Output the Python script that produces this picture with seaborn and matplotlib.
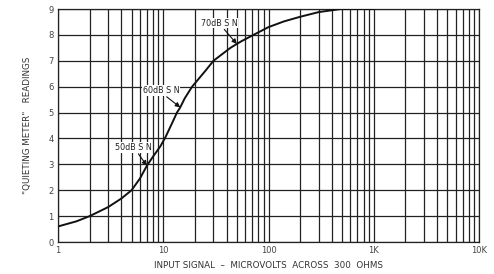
import matplotlib
matplotlib.use("Agg")
import matplotlib.pyplot as plt
import seaborn as sns
import pandas as pd
from matplotlib.ticker import LogLocator, FixedLocator, NullFormatter

signal_uv = [1, 1.5, 2, 3, 4, 5, 6, 7, 8, 9.4, 10.5, 12, 13.5, 14.5, 16, 18.8, 25, 30, 43.5, 50, 55, 72, 100, 140, 200, 300, 485, 1000]
quieting = [0.6, 0.8, 1.0, 1.35, 1.68, 2.0, 2.45, 2.95, 3.3, 3.7, 4.05, 4.55, 5.0, 5.2, 5.55, 6.0, 6.6, 7.0, 7.5, 7.65, 7.75, 8.0, 8.3, 8.52, 8.7, 8.88, 9.0, 9.0]
x_ticks = [1, 10, 100, 1000, 10000]
x_ticklabels = ["1", "10", "100", "1K", "10K"]
y_ticks = list(range(0, 10))
annot_labels = ["50dB S N", "60dB S N", "70dB S N"]
annot_x = [7.0, 14.5, 50]
annot_y = [2.95, 5.2, 7.65]

sns.set_style("white")
plt.rcParams['font.family'] = ['DejaVu Sans']

fig = plt.figure(figsize=(4.94, 2.74), dpi=100)
ax = fig.add_axes([58/494, 1-242/274, (479-58)/494, (242-9)/274])

df = pd.DataFrame({"x": signal_uv, "y": quieting})
sns.lineplot(data=df, x="x", y="y", ax=ax, color="#111111", linewidth=1.4, zorder=5)

ax.set_xscale("log")
ax.set_xlim(1, 10000)
ax.set_ylim(0, 9)
ax.xaxis.set_major_locator(FixedLocator(x_ticks))
ax.set_xticklabels(x_ticklabels)
ax.xaxis.set_minor_locator(LogLocator(base=10, subs=range(2, 10), numticks=20))
ax.xaxis.set_minor_formatter(NullFormatter())
ax.set_yticks(y_ticks)
ax.grid(which="both", axis="x", color="#222222", linewidth=0.9)
ax.grid(which="major", axis="y", color="#222222", linewidth=0.9)
for s in ax.spines.values():
    s.set_color("#222222")
    s.set_linewidth(0.9)
ax.spines["top"].set_visible(True)
ax.spines["right"].set_visible(True)
ax.tick_params(axis="both", which="both", length=0, labelsize=6, colors="#444444", pad=3)

ax.set_xlabel("INPUT SIGNAL  \u2013  MICROVOLTS  ACROSS  300  OHMS", fontsize=6.3, color="#333333", labelpad=4)
ax.set_ylabel('"QUIETING METER"   READINGS', fontsize=6.3, color="#333333", labelpad=12)

offsets = [(-23, 13), (-27, 12), (-26, 15)]
for lab, xx, yy, off in zip(annot_labels, annot_x, annot_y, offsets):
    ax.annotate(lab, xy=(xx, yy), xytext=off, textcoords="offset points",
                fontsize=5.8, color="#222222", ha="left", va="center",
                bbox=dict(facecolor="white", edgecolor="none", pad=0.5),
                arrowprops=dict(arrowstyle="-|>", color="#111111", lw=0.8,
                                mutation_scale=7, shrinkA=1, shrinkB=0,
                                relpos=(0.6, 0.0)),
                zorder=6)

fig.savefig("out.png", dpi=100)
